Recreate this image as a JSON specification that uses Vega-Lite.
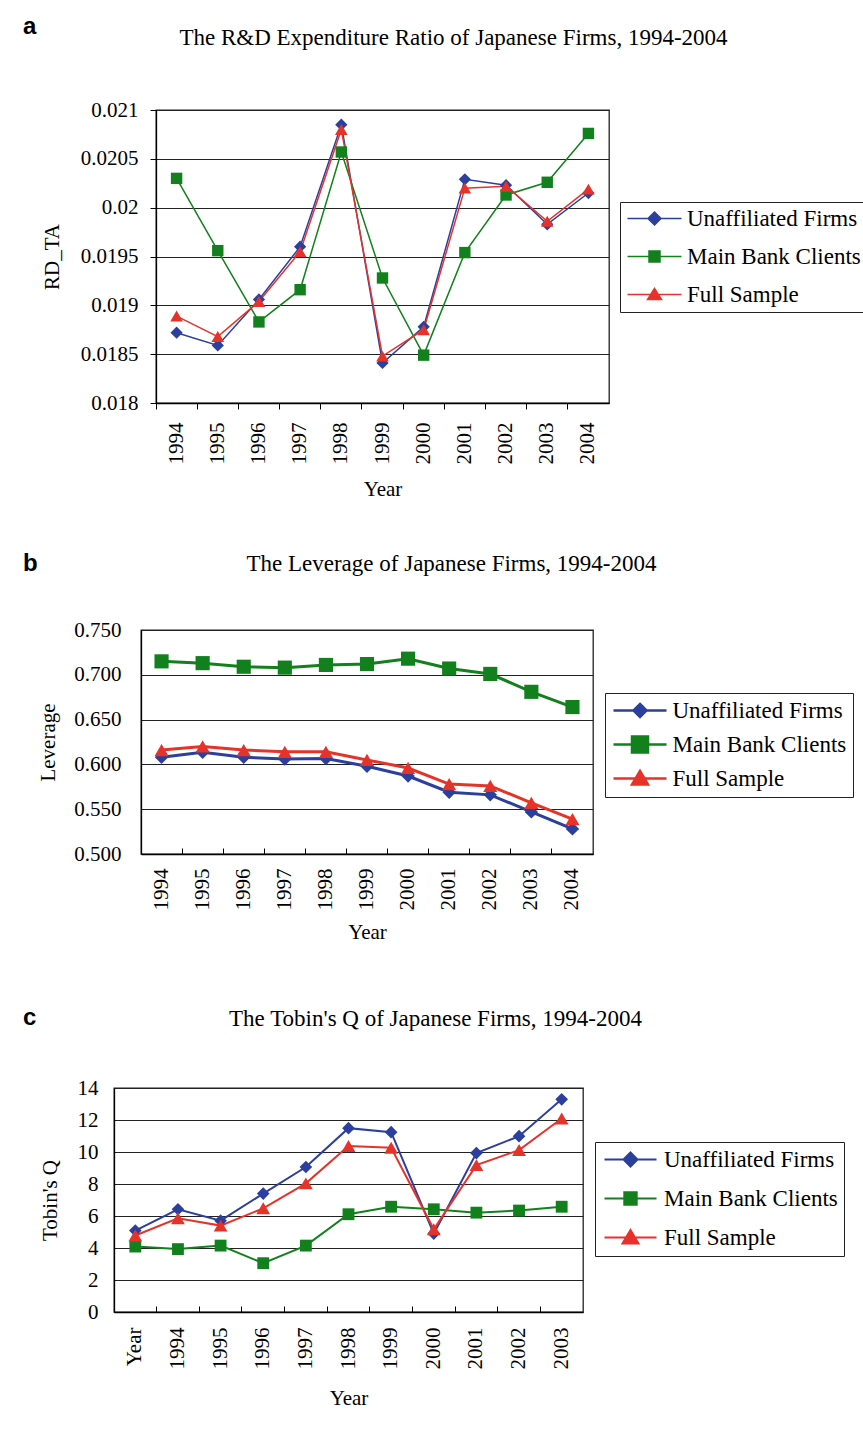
{
  "$schema": "https://vega.github.io/schema/vega-lite/v6.json",
  "padding": {"left": 21, "top": 14, "right": 0, "bottom": 0},
  "spacing": 51,
  "resolve": {"scale": {"color": "independent", "fill": "independent", "stroke": "independent", "shape": "independent"}},
  "datasets": {
    "rd": [
      {"year": "1994", "series": "Unaffiliated Firms", "value": 0.01872},
      {"year": "1995", "series": "Unaffiliated Firms", "value": 0.01859},
      {"year": "1996", "series": "Unaffiliated Firms", "value": 0.01906},
      {"year": "1997", "series": "Unaffiliated Firms", "value": 0.0196},
      {"year": "1998", "series": "Unaffiliated Firms", "value": 0.02085},
      {"year": "1999", "series": "Unaffiliated Firms", "value": 0.01841},
      {"year": "2000", "series": "Unaffiliated Firms", "value": 0.01878},
      {"year": "2001", "series": "Unaffiliated Firms", "value": 0.02029},
      {"year": "2002", "series": "Unaffiliated Firms", "value": 0.02023},
      {"year": "2003", "series": "Unaffiliated Firms", "value": 0.01983},
      {"year": "2004", "series": "Unaffiliated Firms", "value": 0.02015},
      {"year": "1994", "series": "Main Bank Clients", "value": 0.0203},
      {"year": "1995", "series": "Main Bank Clients", "value": 0.01956},
      {"year": "1996", "series": "Main Bank Clients", "value": 0.01883},
      {"year": "1997", "series": "Main Bank Clients", "value": 0.01916},
      {"year": "1998", "series": "Main Bank Clients", "value": 0.02057},
      {"year": "1999", "series": "Main Bank Clients", "value": 0.01928},
      {"year": "2000", "series": "Main Bank Clients", "value": 0.01849},
      {"year": "2001", "series": "Main Bank Clients", "value": 0.01954},
      {"year": "2002", "series": "Main Bank Clients", "value": 0.02013},
      {"year": "2003", "series": "Main Bank Clients", "value": 0.02026},
      {"year": "2004", "series": "Main Bank Clients", "value": 0.02076},
      {"year": "1994", "series": "Full Sample", "value": 0.01889},
      {"year": "1995", "series": "Full Sample", "value": 0.01868},
      {"year": "1996", "series": "Full Sample", "value": 0.01904},
      {"year": "1997", "series": "Full Sample", "value": 0.01955},
      {"year": "1998", "series": "Full Sample", "value": 0.0208},
      {"year": "1999", "series": "Full Sample", "value": 0.01848},
      {"year": "2000", "series": "Full Sample", "value": 0.01875},
      {"year": "2001", "series": "Full Sample", "value": 0.0202},
      {"year": "2002", "series": "Full Sample", "value": 0.02022},
      {"year": "2003", "series": "Full Sample", "value": 0.01986},
      {"year": "2004", "series": "Full Sample", "value": 0.02019}
    ],
    "lev": [
      {"year": "1994", "series": "Unaffiliated Firms", "value": 0.608},
      {"year": "1995", "series": "Unaffiliated Firms", "value": 0.6135},
      {"year": "1996", "series": "Unaffiliated Firms", "value": 0.608},
      {"year": "1997", "series": "Unaffiliated Firms", "value": 0.606},
      {"year": "1998", "series": "Unaffiliated Firms", "value": 0.6065},
      {"year": "1999", "series": "Unaffiliated Firms", "value": 0.598},
      {"year": "2000", "series": "Unaffiliated Firms", "value": 0.587},
      {"year": "2001", "series": "Unaffiliated Firms", "value": 0.569},
      {"year": "2002", "series": "Unaffiliated Firms", "value": 0.566},
      {"year": "2003", "series": "Unaffiliated Firms", "value": 0.547},
      {"year": "2004", "series": "Unaffiliated Firms", "value": 0.528},
      {"year": "1994", "series": "Main Bank Clients", "value": 0.715},
      {"year": "1995", "series": "Main Bank Clients", "value": 0.713},
      {"year": "1996", "series": "Main Bank Clients", "value": 0.709},
      {"year": "1997", "series": "Main Bank Clients", "value": 0.708},
      {"year": "1998", "series": "Main Bank Clients", "value": 0.711},
      {"year": "1999", "series": "Main Bank Clients", "value": 0.712},
      {"year": "2000", "series": "Main Bank Clients", "value": 0.718},
      {"year": "2001", "series": "Main Bank Clients", "value": 0.707},
      {"year": "2002", "series": "Main Bank Clients", "value": 0.701},
      {"year": "2003", "series": "Main Bank Clients", "value": 0.681},
      {"year": "2004", "series": "Main Bank Clients", "value": 0.664},
      {"year": "1994", "series": "Full Sample", "value": 0.616},
      {"year": "1995", "series": "Full Sample", "value": 0.62},
      {"year": "1996", "series": "Full Sample", "value": 0.616},
      {"year": "1997", "series": "Full Sample", "value": 0.614},
      {"year": "1998", "series": "Full Sample", "value": 0.614},
      {"year": "1999", "series": "Full Sample", "value": 0.605},
      {"year": "2000", "series": "Full Sample", "value": 0.596},
      {"year": "2001", "series": "Full Sample", "value": 0.578},
      {"year": "2002", "series": "Full Sample", "value": 0.576},
      {"year": "2003", "series": "Full Sample", "value": 0.557},
      {"year": "2004", "series": "Full Sample", "value": 0.539}
    ],
    "q": [
      {"year": "Year", "series": "Unaffiliated Firms", "value": 5.09},
      {"year": "1994", "series": "Unaffiliated Firms", "value": 6.42},
      {"year": "1995", "series": "Unaffiliated Firms", "value": 5.71},
      {"year": "1996", "series": "Unaffiliated Firms", "value": 7.4},
      {"year": "1997", "series": "Unaffiliated Firms", "value": 9.06},
      {"year": "1998", "series": "Unaffiliated Firms", "value": 11.49},
      {"year": "1999", "series": "Unaffiliated Firms", "value": 11.24},
      {"year": "2000", "series": "Unaffiliated Firms", "value": 4.9},
      {"year": "2001", "series": "Unaffiliated Firms", "value": 9.93},
      {"year": "2002", "series": "Unaffiliated Firms", "value": 10.99},
      {"year": "2003", "series": "Unaffiliated Firms", "value": 13.29},
      {"year": "Year", "series": "Main Bank Clients", "value": 4.09},
      {"year": "1994", "series": "Main Bank Clients", "value": 3.93},
      {"year": "1995", "series": "Main Bank Clients", "value": 4.15},
      {"year": "1996", "series": "Main Bank Clients", "value": 3.05},
      {"year": "1997", "series": "Main Bank Clients", "value": 4.15},
      {"year": "1998", "series": "Main Bank Clients", "value": 6.11},
      {"year": "1999", "series": "Main Bank Clients", "value": 6.58},
      {"year": "2000", "series": "Main Bank Clients", "value": 6.42},
      {"year": "2001", "series": "Main Bank Clients", "value": 6.21},
      {"year": "2002", "series": "Main Bank Clients", "value": 6.34},
      {"year": "2003", "series": "Main Bank Clients", "value": 6.58},
      {"year": "Year", "series": "Full Sample", "value": 4.78},
      {"year": "1994", "series": "Full Sample", "value": 5.86},
      {"year": "1995", "series": "Full Sample", "value": 5.4},
      {"year": "1996", "series": "Full Sample", "value": 6.48},
      {"year": "1997", "series": "Full Sample", "value": 8.04},
      {"year": "1998", "series": "Full Sample", "value": 10.37},
      {"year": "1999", "series": "Full Sample", "value": 10.26},
      {"year": "2000", "series": "Full Sample", "value": 5.17},
      {"year": "2001", "series": "Full Sample", "value": 9.18},
      {"year": "2002", "series": "Full Sample", "value": 10.12},
      {"year": "2003", "series": "Full Sample", "value": 12.09}
    ]
  },
  "vconcat": [
    {"spacing": 0, "hconcat": [
    {"width": 1, "height": 1, "data": {"values": []}, "mark": "point", "view": {"stroke": null}},
    {
      "width": 453,
      "height": 293,
      "title": {"text": "a", "anchor": "start", "frame": "group", "dx": -133, "offset": -32, "baseline": "alphabetic", "font": "Liberation Sans", "fontWeight": "bold", "fontSize": 24, "color": "black"},
      "data": {"name": "rd"},
      "layer": [
        {
          "mark": {"type": "line", "strokeWidth": 1.5},
          "encoding": {
            "x": {"field": "year", "type": "ordinal", "scale": {"type": "band", "paddingInner": 0, "paddingOuter": 0},
                  "axis": {"orient": "bottom", "title": "Year", "labelAngle": -90, "bandPosition": 0, "tickSize": 6, "labelPadding": 13, "titlePadding": 14, "grid": false}},
            "y": {"field": "value", "type": "quantitative", "scale": {"domain": [0.018, 0.021], "nice": false, "zero": false},
                  "axis": {"title": "RD_TA", "values": [0.018, 0.0185, 0.019, 0.0195, 0.02, 0.0205, 0.021], "tickCount": 20, "format": "~g", "tickSize": 6, "labelPadding": 12, "titlePadding": 18, "grid": true, "labelOverlap": false}},
            "color": {"field": "series", "type": "nominal", "scale": {"domain": ["Full Sample", "Main Bank Clients", "Unaffiliated Firms"], "range": ["#E6332A", "#12801C", "#2B3F9E"]}, "legend": null}
          }
        },
        {
          "transform": [{"filter": {"field": "series", "equal": "Unaffiliated Firms"}}],
          "mark": {"type": "point", "shape": "diamond", "filled": true, "size": 150, "opacity": 1},
          "encoding": {
            "x": {"field": "year", "type": "ordinal", "scale": {"type": "band", "paddingInner": 0, "paddingOuter": 0}, "axis": null},
            "y": {"field": "value", "type": "quantitative"},
            "color": {"field": "series", "type": "nominal", "legend": null}
          }
        },
        {
          "transform": [{"filter": {"field": "series", "equal": "Main Bank Clients"}}],
          "mark": {"type": "point", "shape": "square", "filled": true, "size": 130, "opacity": 1},
          "encoding": {
            "x": {"field": "year", "type": "ordinal", "scale": {"type": "band", "paddingInner": 0, "paddingOuter": 0}, "axis": null},
            "y": {"field": "value", "type": "quantitative"},
            "color": {"field": "series", "type": "nominal", "legend": null}
          }
        },
        {
          "transform": [{"filter": {"field": "series", "equal": "Full Sample"}}],
          "mark": {"type": "point", "shape": "triangle-up", "filled": true, "size": 160, "opacity": 1},
          "encoding": {
            "x": {"field": "year", "type": "ordinal", "scale": {"type": "band", "paddingInner": 0, "paddingOuter": 0}, "axis": null},
            "y": {"field": "value", "type": "quantitative"},
            "color": {"field": "series", "type": "nominal", "legend": null}
          }
        },
        {
          "mark": {"type": "point", "filled": true, "opacity": 0, "strokeWidth": 1.5},
          "encoding": {
            "x": {"field": "year", "type": "ordinal", "scale": {"type": "band", "paddingInner": 0, "paddingOuter": 0},
                  "axis": {"orient": "top", "title": "The R&D Expenditure Ratio of Japanese Firms, 1994-2004", "labels": false, "ticks": false, "domain": false, "grid": false, "titleFontSize": 23, "titleX": 297, "titleY": -66, "titleAlign": "center", "titleBaseline": "alphabetic"}},
            "y": {"field": "value", "type": "quantitative"},
            "fill": {"field": "series", "type": "nominal", "scale": {"domain": ["Unaffiliated Firms", "Main Bank Clients", "Full Sample"], "range": ["#2B3F9E", "#12801C", "#E6332A"]},
                     "legend": {"orient": "none", "legendX": 599, "legendY": 92, "title": null, "symbolSize": 400, "symbolOffset": 18, "symbolStrokeWidth": 1.5, "symbolOpacity": 1, "labelOffset": 21, "padding": 5, "rowPadding": 14, "strokeColor": "#222"}},
            "stroke": {"field": "series", "type": "nominal", "scale": {"domain": ["Unaffiliated Firms", "Main Bank Clients", "Full Sample"], "range": ["#2B3F9E", "#12801C", "#E6332A"]},
                     "legend": {"orient": "none", "legendX": 599, "legendY": 92, "title": null, "symbolSize": 400, "symbolOffset": 18, "symbolStrokeWidth": 1.5, "symbolOpacity": 1, "labelOffset": 21, "padding": 5, "rowPadding": 14, "strokeColor": "#222"}},
            "shape": {"field": "series", "type": "nominal", "scale": {"domain": ["Unaffiliated Firms", "Main Bank Clients", "Full Sample"], "range": ["M-2.7,0H2.7M0,-0.65L0.65,0L0,0.65L-0.65,0Z", "M-2.7,0H2.7M-0.55,-0.55H0.55V0.55H-0.55Z", "M-2.7,0H2.7M0,-0.62L0.7,0.5H-0.7Z"]},
                      "legend": {"orient": "none", "legendX": 599, "legendY": 92, "title": null, "symbolSize": 400, "symbolOffset": 18, "symbolStrokeWidth": 1.5, "symbolOpacity": 1, "labelOffset": 21, "padding": 5, "rowPadding": 14, "strokeColor": "#222"}}
          }
        }
      ],
      "resolve": {"axis": {"x": "independent"}}
    }]},
    {"spacing": 62, "resolve": {"scale": {"color": "independent", "fill": "independent", "stroke": "independent", "shape": "independent"}}, "vconcat": [
    {"spacing": 0, "hconcat": [
    {"width": 1, "height": 1, "data": {"values": []}, "mark": "point", "view": {"stroke": null}},
    {
      "width": 452,
      "height": 224,
      "title": {"text": "b", "anchor": "start", "frame": "group", "dx": -118, "offset": -43, "baseline": "alphabetic", "font": "Liberation Sans", "fontWeight": "bold", "fontSize": 24, "color": "black"},
      "data": {"name": "lev"},
      "layer": [
        {
          "mark": {"type": "line", "strokeWidth": 3},
          "encoding": {
            "x": {"field": "year", "type": "ordinal", "scale": {"type": "band", "paddingInner": 0, "paddingOuter": 0},
                  "axis": {"orient": "bottom", "title": "Year", "labelAngle": -90, "bandPosition": 0, "tickSize": -6, "labelPadding": 20, "titlePadding": 11, "grid": false}},
            "y": {"field": "value", "type": "quantitative", "scale": {"domain": [0.5, 0.75], "nice": false, "zero": false},
                  "axis": {"title": "Leverage", "values": [0.5, 0.55, 0.6, 0.65, 0.7, 0.75], "tickCount": 20, "format": ".3f", "ticks": false, "labelPadding": 20, "titlePadding": 15, "grid": true, "labelOverlap": false}},
            "color": {"field": "series", "type": "nominal", "scale": {"domain": ["Full Sample", "Main Bank Clients", "Unaffiliated Firms"], "range": ["#E6332A", "#12801C", "#2B3F9E"]}, "legend": null}
          }
        },
        {
          "transform": [{"filter": {"field": "series", "equal": "Unaffiliated Firms"}}],
          "mark": {"type": "point", "shape": "diamond", "filled": true, "size": 180, "opacity": 1},
          "encoding": {
            "x": {"field": "year", "type": "ordinal", "scale": {"type": "band", "paddingInner": 0, "paddingOuter": 0}, "axis": null},
            "y": {"field": "value", "type": "quantitative"},
            "color": {"field": "series", "type": "nominal", "legend": null}
          }
        },
        {
          "transform": [{"filter": {"field": "series", "equal": "Main Bank Clients"}}],
          "mark": {"type": "point", "shape": "square", "filled": true, "size": 200, "opacity": 1},
          "encoding": {
            "x": {"field": "year", "type": "ordinal", "scale": {"type": "band", "paddingInner": 0, "paddingOuter": 0}, "axis": null},
            "y": {"field": "value", "type": "quantitative"},
            "color": {"field": "series", "type": "nominal", "legend": null}
          }
        },
        {
          "transform": [{"filter": {"field": "series", "equal": "Full Sample"}}],
          "mark": {"type": "point", "shape": "triangle-up", "filled": true, "size": 200, "opacity": 1},
          "encoding": {
            "x": {"field": "year", "type": "ordinal", "scale": {"type": "band", "paddingInner": 0, "paddingOuter": 0}, "axis": null},
            "y": {"field": "value", "type": "quantitative"},
            "color": {"field": "series", "type": "nominal", "legend": null}
          }
        },
        {
          "mark": {"type": "point", "filled": true, "opacity": 0, "strokeWidth": 2.5},
          "encoding": {
            "x": {"field": "year", "type": "ordinal", "scale": {"type": "band", "paddingInner": 0, "paddingOuter": 0},
                  "axis": {"orient": "top", "title": "The Leverage of Japanese Firms, 1994-2004", "labels": false, "ticks": false, "domain": false, "grid": false, "titleFontSize": 23, "titleX": 310, "titleY": -60, "titleAlign": "center", "titleBaseline": "alphabetic"}},
            "y": {"field": "value", "type": "quantitative"},
            "fill": {"field": "series", "type": "nominal", "scale": {"domain": ["Unaffiliated Firms", "Main Bank Clients", "Full Sample"], "range": ["#2B3F9E", "#12801C", "#E6332A"]},
                     "legend": {"orient": "none", "legendX": 584, "legendY": 63, "title": null, "symbolSize": 400, "symbolOffset": 17.5, "symbolStrokeWidth": 2.5, "symbolOpacity": 1, "labelOffset": 21, "padding": 6, "rowPadding": 8, "strokeColor": "#222"}},
            "stroke": {"field": "series", "type": "nominal", "scale": {"domain": ["Unaffiliated Firms", "Main Bank Clients", "Full Sample"], "range": ["#2B3F9E", "#12801C", "#E6332A"]},
                     "legend": {"orient": "none", "legendX": 584, "legendY": 63, "title": null, "symbolSize": 400, "symbolOffset": 17.5, "symbolStrokeWidth": 2.5, "symbolOpacity": 1, "labelOffset": 21, "padding": 6, "rowPadding": 8, "strokeColor": "#222"}},
            "shape": {"field": "series", "type": "nominal", "scale": {"domain": ["Unaffiliated Firms", "Main Bank Clients", "Full Sample"], "range": ["M-2.65,0H2.65M0,-0.65L0.65,0L0,0.65L-0.65,0Z", "M-2.65,0H2.65M-0.8,-0.8H0.8V0.8H-0.8Z", "M-2.65,0H2.65M0,-0.75L0.8,0.6H-0.8Z"]},
                      "legend": {"orient": "none", "legendX": 584, "legendY": 63, "title": null, "symbolSize": 400, "symbolOffset": 17.5, "symbolStrokeWidth": 2.5, "symbolOpacity": 1, "labelOffset": 21, "padding": 6, "rowPadding": 8, "strokeColor": "#222"}}
          }
        }
      ],
      "resolve": {"axis": {"x": "independent"}}
    }]},
    {"spacing": 0, "hconcat": [
    {"width": 1, "height": 1, "data": {"values": []}, "mark": "point", "view": {"stroke": null}},
    {
      "width": 469,
      "height": 224,
      "title": {"text": "c", "anchor": "start", "frame": "group", "dx": -91, "offset": -42, "baseline": "alphabetic", "font": "Liberation Sans", "fontWeight": "bold", "fontSize": 24, "color": "black"},
      "data": {"name": "q"},
      "layer": [
        {
          "mark": {"type": "line", "strokeWidth": 2},
          "encoding": {
            "x": {"field": "year", "type": "ordinal", "sort": null, "scale": {"type": "band", "paddingInner": 0, "paddingOuter": 0, "domain": ["Year", "1994", "1995", "1996", "1997", "1998", "1999", "2000", "2001", "2002", "2003"]},
                  "axis": {"orient": "bottom", "title": "Year", "labelAngle": -90, "bandPosition": 0, "tickSize": -6, "labelPadding": 21, "titlePadding": 18, "grid": false}},
            "y": {"field": "value", "type": "quantitative", "scale": {"domain": [0, 14], "nice": false, "zero": false},
                  "axis": {"title": "Tobin's Q", "values": [0, 2, 4, 6, 8, 10, 12, 14], "tickCount": 20, "format": "d", "ticks": false, "labelPadding": 16, "titlePadding": 17, "grid": true, "labelOverlap": false}},
            "color": {"field": "series", "type": "nominal", "scale": {"domain": ["Full Sample", "Main Bank Clients", "Unaffiliated Firms"], "range": ["#E6332A", "#12801C", "#2B3F9E"]}, "legend": null}
          }
        },
        {
          "transform": [{"filter": {"field": "series", "equal": "Unaffiliated Firms"}}],
          "mark": {"type": "point", "shape": "diamond", "filled": true, "size": 160, "opacity": 1},
          "encoding": {
            "x": {"field": "year", "type": "ordinal", "sort": null, "scale": {"type": "band", "paddingInner": 0, "paddingOuter": 0}, "axis": null},
            "y": {"field": "value", "type": "quantitative"},
            "color": {"field": "series", "type": "nominal", "legend": null}
          }
        },
        {
          "transform": [{"filter": {"field": "series", "equal": "Main Bank Clients"}}],
          "mark": {"type": "point", "shape": "square", "filled": true, "size": 140, "opacity": 1},
          "encoding": {
            "x": {"field": "year", "type": "ordinal", "sort": null, "scale": {"type": "band", "paddingInner": 0, "paddingOuter": 0}, "axis": null},
            "y": {"field": "value", "type": "quantitative"},
            "color": {"field": "series", "type": "nominal", "legend": null}
          }
        },
        {
          "transform": [{"filter": {"field": "series", "equal": "Full Sample"}}],
          "mark": {"type": "point", "shape": "triangle-up", "filled": true, "size": 190, "opacity": 1},
          "encoding": {
            "x": {"field": "year", "type": "ordinal", "sort": null, "scale": {"type": "band", "paddingInner": 0, "paddingOuter": 0}, "axis": null},
            "y": {"field": "value", "type": "quantitative"},
            "color": {"field": "series", "type": "nominal", "legend": null}
          }
        },
        {
          "mark": {"type": "point", "filled": true, "opacity": 0, "strokeWidth": 2},
          "encoding": {
            "x": {"field": "year", "type": "ordinal", "sort": null, "scale": {"type": "band", "paddingInner": 0, "paddingOuter": 0},
                  "axis": {"orient": "top", "title": "The Tobin's Q of Japanese Firms, 1994-2004", "labels": false, "ticks": false, "domain": false, "grid": false, "titleFontSize": 23, "titleX": 321, "titleY": -63, "titleAlign": "center", "titleBaseline": "alphabetic"}},
            "y": {"field": "value", "type": "quantitative"},
            "fill": {"field": "series", "type": "nominal", "scale": {"domain": ["Unaffiliated Firms", "Main Bank Clients", "Full Sample"], "range": ["#2B3F9E", "#12801C", "#E6332A"]},
                     "legend": {"orient": "none", "legendX": 574, "legendY": 54, "title": null, "symbolSize": 400, "symbolOffset": 18, "symbolStrokeWidth": 2, "symbolOpacity": 1, "labelOffset": 22, "padding": 6, "rowPadding": 15, "strokeColor": "#222"}},
            "stroke": {"field": "series", "type": "nominal", "scale": {"domain": ["Unaffiliated Firms", "Main Bank Clients", "Full Sample"], "range": ["#2B3F9E", "#12801C", "#E6332A"]},
                     "legend": {"orient": "none", "legendX": 574, "legendY": 54, "title": null, "symbolSize": 400, "symbolOffset": 18, "symbolStrokeWidth": 2, "symbolOpacity": 1, "labelOffset": 22, "padding": 6, "rowPadding": 15, "strokeColor": "#222"}},
            "shape": {"field": "series", "type": "nominal", "scale": {"domain": ["Unaffiliated Firms", "Main Bank Clients", "Full Sample"], "range": ["M-2.6,0H2.6M0,-0.7L0.7,0L0,0.7L-0.7,0Z", "M-2.6,0H2.6M-0.62,-0.62H0.62V0.62H-0.62Z", "M-2.6,0H2.6M0,-0.75L0.8,0.6H-0.8Z"]},
                      "legend": {"orient": "none", "legendX": 574, "legendY": 54, "title": null, "symbolSize": 400, "symbolOffset": 18, "symbolStrokeWidth": 2, "symbolOpacity": 1, "labelOffset": 22, "padding": 6, "rowPadding": 15, "strokeColor": "#222"}}
          }
        }
      ],
      "resolve": {"axis": {"x": "independent"}}
    }]}
    ]}
  ],
  "config": {
    "font": "Liberation Serif",
    "background": "white",
    "view": {"stroke": "#222", "strokeWidth": 1.3},
    "axis": {
      "labelFont": "Liberation Serif", "labelFontSize": 21, "labelColor": "black",
      "titleFont": "Liberation Serif", "titleFontSize": 21, "titleFontWeight": "normal", "titleColor": "black",
      "tickColor": "black", "domainColor": "black", "domainWidth": 1.3, "gridColor": "#222", "gridWidth": 1
    },
    "legend": {
      "labelFont": "Liberation Serif", "labelFontSize": 23, "labelColor": "black", "labelLimit": 400
    }
  }
}
